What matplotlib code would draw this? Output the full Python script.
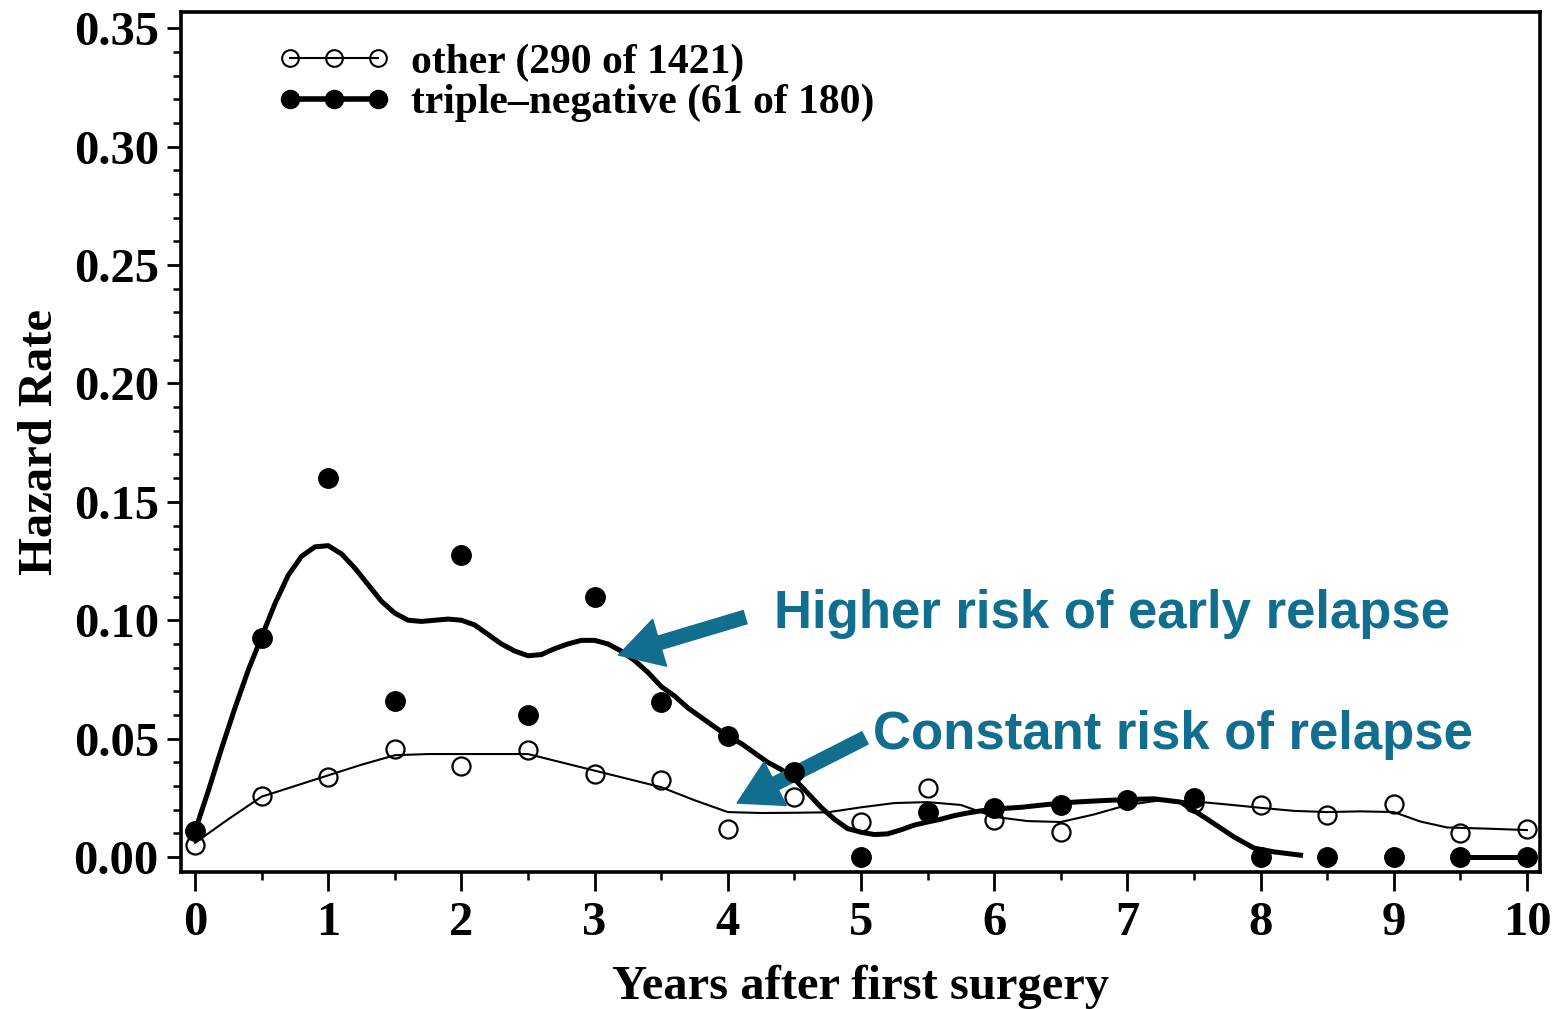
import matplotlib
matplotlib.use("Agg")
import matplotlib.pyplot as plt
from matplotlib.lines import Line2D
from matplotlib.ticker import MultipleLocator, FormatStrFormatter

# yearly hazard estimates (every half year)
years = [0, 0.5, 1, 1.5, 2, 2.5, 3, 3.5, 4, 4.5, 5, 5.5, 6, 6.5, 7, 7.5, 8, 8.5, 9, 9.5, 10]
other_pts = [0.005, 0.0258, 0.0338, 0.0456, 0.0384, 0.0452, 0.035, 0.0325, 0.0118, 0.0253, 0.0148,
             0.029, 0.0156, 0.0106, 0.024, 0.023, 0.022, 0.0177, 0.0224, 0.010, 0.0118]
tn_pts = [0.011, 0.0925, 0.160, 0.066, 0.1275, 0.060, 0.110, 0.0655, 0.051, 0.036, 0.0,
          0.019, 0.0207, 0.022, 0.024, 0.025, 0.0, 0.0, 0.0, 0.0, 0.0]

# smoothed hazard curves
tn_x = [0.0, 0.1, 0.2, 0.3, 0.4, 0.5, 0.6, 0.7, 0.8, 0.9, 1.0, 1.1, 1.2, 1.3, 1.4, 1.5, 1.6, 1.7,
        1.8, 1.9, 2.0, 2.1, 2.2, 2.3, 2.4, 2.5, 2.6, 2.7, 2.8, 2.9, 3.0, 3.1, 3.2, 3.3, 3.4, 3.5,
        3.6, 3.7, 3.8, 3.9, 4.0, 4.1, 4.2, 4.3, 4.4, 4.5, 4.6, 4.7, 4.8, 4.9, 5.0, 5.1, 5.2, 5.3,
        5.4, 5.5, 5.6, 5.7, 5.8, 5.9, 6.0, 6.2, 6.4, 6.6, 6.8, 7.0, 7.2, 7.4, 7.6, 7.8, 7.95,
        8.1, 8.3]
tn_smooth = [0.011, 0.028, 0.046, 0.063, 0.079, 0.093, 0.107, 0.119, 0.127, 0.131, 0.1315, 0.128,
             0.122, 0.115, 0.108, 0.103, 0.100, 0.0995, 0.100, 0.1005, 0.100, 0.098, 0.094, 0.090,
             0.087, 0.085, 0.0855, 0.088, 0.090, 0.0915, 0.0915, 0.090, 0.087, 0.083, 0.078, 0.072,
             0.068, 0.063, 0.059, 0.055, 0.051, 0.048, 0.044, 0.040, 0.037, 0.033, 0.027, 0.021,
             0.016, 0.012, 0.0105, 0.0095, 0.0098, 0.0115, 0.0135, 0.0148, 0.016, 0.0175, 0.0186,
             0.0195, 0.0203, 0.021, 0.0222, 0.0232, 0.0238, 0.0243, 0.0246, 0.0232, 0.0160,
             0.0085, 0.0038, 0.0022, 0.0008]
tn_tail_x = [9.5, 10.0]
tn_tail = [0.0, 0.0]

other_x = [0.0, 0.25, 0.5, 0.75, 1.0, 1.25, 1.5, 1.75, 2.0, 2.25, 2.5, 2.75, 3.0, 3.25, 3.5, 3.75,
           4.0, 4.25, 4.5, 4.75, 5.0, 5.25, 5.5, 5.75, 6.0, 6.25, 6.5, 6.75, 7.0, 7.25, 7.5, 7.75,
           8.0, 8.25, 8.5, 8.75, 9.0, 9.2, 9.4, 9.7, 10.0]
other_smooth = [0.006, 0.016, 0.0255, 0.030, 0.0345, 0.039, 0.043, 0.0435, 0.0435, 0.0435, 0.0435,
                0.040, 0.0365, 0.033, 0.0295, 0.024, 0.019, 0.0186, 0.0187, 0.0189, 0.021, 0.0228,
                0.0232, 0.022, 0.017, 0.0152, 0.0148, 0.018, 0.022, 0.024, 0.0235, 0.0222, 0.0208,
                0.0195, 0.019, 0.0193, 0.019, 0.015, 0.0125, 0.012, 0.0114]

legend_labels = ["other (290 of 1421)", "triple\u2013negative (61 of 180)"]

teal = "#126E8F"
serif = ["Liberation Serif", "DejaVu Serif"]

fig = plt.figure(figsize=(15.54, 10.09), dpi=100)
ax = fig.add_axes([0.1165, 0.1358, 0.8745, 0.8522])

ax.plot(other_x, other_smooth, color="black", lw=1.5, zorder=2)
ax.plot(tn_x, tn_smooth, color="black", lw=3.6, zorder=3)
ax.plot(tn_tail_x, tn_tail, color="black", lw=3.6, zorder=3)
ax.plot(years, other_pts, ls="none", marker="o", ms=13, mfc="none", mec="black", mew=1.6, zorder=4)
ax.plot(years, tn_pts, ls="none", marker="o", ms=14, mfc="black", mec="black", zorder=5)

ax.set_xlim(-0.105, 10.098)
ax.set_ylim(-0.0063, 0.3568)
ax.xaxis.set_major_locator(MultipleLocator(1))
ax.xaxis.set_minor_locator(MultipleLocator(0.5))
ax.yaxis.set_major_locator(MultipleLocator(0.05))
ax.yaxis.set_minor_locator(MultipleLocator(0.01))
ax.yaxis.set_major_formatter(FormatStrFormatter("%.2f"))

for s in ax.spines.values():
    s.set_linewidth(2.6)
ax.tick_params(which="major", length=10, width=2, direction="out", pad=6)
ax.tick_params(which="minor", length=6, width=1.8, direction="out")
ax.tick_params(axis="x", which="major", length=14, pad=7)
for lab in ax.get_xticklabels() + ax.get_yticklabels():
    lab.set_fontfamily(serif)
    lab.set_fontweight("bold")
    lab.set_fontsize(35)

ax.set_xlabel("Years after first surgery", fontfamily=serif, fontweight="bold", fontsize=35, labelpad=14)
ax.set_ylabel("Hazard Rate", fontfamily=serif, fontweight="bold", fontsize=35, labelpad=8)

handles = [
    Line2D([], [], color="black", lw=1.5, marker="o", ms=12, mfc="none", mec="black", mew=1.5),
    Line2D([], [], color="black", lw=4, marker="o", ms=13, mfc="black", mec="black"),
]
ax.legend(handles, legend_labels, loc="upper left", bbox_to_anchor=(0.059, 0.983), frameon=False,
          numpoints=3, handlelength=2.7, handletextpad=0.5, labelspacing=0.05, borderaxespad=0,
          prop={"family": serif, "weight": "bold", "size": 30})

# annotations
arrow_style = "simple,head_length=1.4,head_width=1.6,tail_width=0.45"
ax.annotate("", xy=(3.18, 0.0853), xytext=(4.13, 0.1013),
            arrowprops=dict(arrowstyle=arrow_style, color=teal, mutation_scale=22, shrinkA=0, shrinkB=0))
ax.annotate("", xy=(4.07, 0.0228), xytext=(5.03, 0.0503),
            arrowprops=dict(arrowstyle=arrow_style, color=teal, mutation_scale=22, shrinkA=0, shrinkB=0))
sans = ["Liberation Sans"]
ax.text(4.35, 0.1026, "Higher risk of early relapse", color=teal, fontfamily=sans, fontweight="bold",
        fontsize=38, va="center", ha="left")
ax.text(5.09, 0.0515, "Constant risk of relapse", color=teal, fontfamily=sans, fontweight="bold",
        fontsize=38, va="center", ha="left")

fig.savefig("out.png", dpi=100)
